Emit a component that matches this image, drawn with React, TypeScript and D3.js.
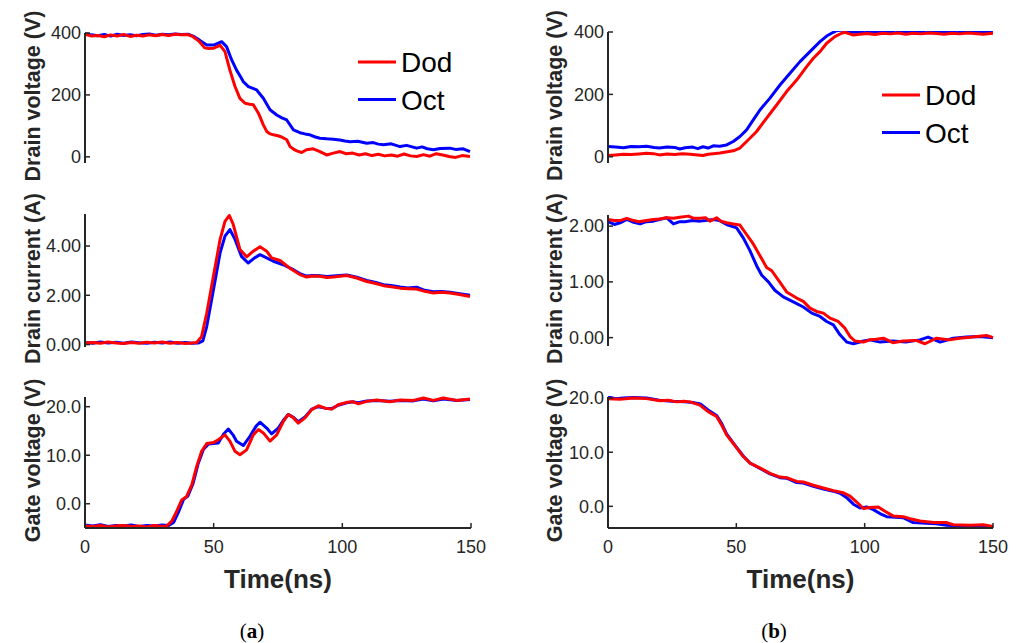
import React from 'react';
import * as d3 from 'd3';

// time (ns), value pairs
const dodVdsA = [[0,396],[2.5,390],[5,392],[7.5,388],[10,394],[12.5,390],[15,395],[17.5,389],[20,393],[22.5,390],[25,394],[27.5,391],[30,395],[32.5,392],[35,396],[37.5,394],[40,395],[42,388],[44.5,372],[46.5,352],[48,350],[50,351],[52.5,360],[54.4,340],[56.3,280],[58.3,227],[60.2,189],[62.2,173],[64,170],[65.4,168],[67.4,141],[69.3,103],[70.6,82],[72,74],[73.2,71],[75,68],[76.4,64],[78.4,55],[79.7,33],[81,25],[82.3,19],[84.2,14],[86.1,23],[88.7,26],[91.3,17],[93.9,6],[96.5,12],[99.1,17],[101.5,10],[104,12],[106.5,6],[109,10],[111.5,4],[114,8],[116.5,3],[119,6],[121.5,2],[124,9],[126.5,3],[129,1],[131.5,7],[134,2],[136.5,10],[139,6],[141.5,1],[144,-2],[146.5,4],[149.6,1]];
const octVdsA = [[0,398],[2.5,394],[5,391],[7.5,395],[10,390],[12.5,396],[15,392],[17.5,394],[20,391],[22.5,395],[25,397],[27.5,393],[30,396],[32.5,394],[35,397],[37.5,395],[40,396],[42,390],[44.5,377],[47.3,361],[50,361],[53.1,372],[55,356],[57,313],[58.9,280],[60.5,258],[61.5,243],[63.5,227],[65,222],[66.7,216],[69.3,189],[71.9,152],[74.5,135],[76.5,126],[78.4,119],[81,87],[83.5,78],[85.5,74],[87.4,71],[89.5,64],[91.3,60],[94,58],[96.5,57],[99,54],[101,51],[103,49],[106,50],[109.5,44],[112,46],[114,41],[116,39],[119,42],[122.4,33],[125,37],[128.9,28],[131,32],[133,26],[135.4,23],[138,27],[141.8,28],[144,24],[147,26],[149.6,17]];

const dodIdA = [[0,0.06],[3,0.08],[6,0.05],[9,0.1],[12,0.06],[15,0.04],[18,0.08],[21,0.05],[24,0.09],[27,0.06],[30,0.1],[33,0.05],[36,0.08],[39,0.04],[41.5,0.06],[43.4,0.08],[45.3,0.32],[47.3,1.27],[49.9,2.77],[52.5,4.27],[54.4,5.0],[56.1,5.24],[57.6,4.88],[60.2,3.86],[62.8,3.56],[65.4,3.79],[68,3.97],[70.6,3.79],[72.5,3.52],[75.8,3.41],[79.6,3.1],[83.5,2.84],[86.1,2.74],[88.5,2.78],[91.3,2.77],[94,2.72],[96.5,2.74],[99,2.77],[101.7,2.8],[105.6,2.7],[109.5,2.56],[113,2.48],[116,2.39],[119,2.35],[122.4,2.29],[125.5,2.27],[128.9,2.25],[132,2.16],[135.4,2.09],[138.5,2.12],[141.8,2.09],[145,2.04],[149.6,1.95]];
const octIdA = [[0,0.08],[3,0.05],[6,0.1],[9,0.06],[12,0.09],[15,0.05],[18,0.1],[21,0.07],[24,0.05],[27,0.09],[30,0.06],[33,0.1],[36,0.05],[39,0.08],[41.5,0.05],[44,0.06],[45.8,0.15],[47.3,0.73],[49.9,2.22],[52.5,3.72],[54.4,4.4],[56.3,4.67],[58.3,4.27],[60.8,3.58],[63.4,3.31],[65.9,3.52],[68,3.65],[70.6,3.52],[73.2,3.38],[77,3.24],[81,3.04],[83.5,2.88],[86.1,2.78],[88.5,2.8],[91.3,2.79],[94,2.76],[96.5,2.78],[99,2.8],[101.7,2.82],[105.6,2.73],[109.5,2.6],[113,2.52],[116,2.43],[119,2.4],[122.4,2.34],[125.5,2.3],[128.9,2.33],[132,2.2],[135.4,2.14],[138.5,2.15],[141.8,2.12],[145,2.07],[149.6,2.0]];

const dodVgsA = [[0,-4.6],[3,-4.7],[6,-4.5],[9,-4.8],[12,-4.6],[15,-4.5],[18,-4.7],[21,-4.6],[24,-4.8],[27,-4.5],[30,-4.7],[31.7,-4.6],[33.7,-3.6],[35.6,-1.6],[37.6,0.8],[39.5,1.5],[41.5,3.9],[43.4,7.7],[45.3,10.8],[47.3,12.4],[49.9,12.6],[51.8,13.2],[54.4,14.2],[56.3,12.9],[58.3,10.8],[60.2,10.1],[62.8,11.1],[65.4,14.2],[67.4,15.3],[69.3,14.6],[71.9,12.9],[74.5,14.2],[77.1,17.0],[79,18.4],[81,17.7],[82.9,16.6],[85.5,17.7],[88.1,19.4],[90.7,20.2],[93.3,19.7],[95.9,19.5],[98.4,20.4],[101.7,20.9],[104.3,21.0],[106.2,20.6],[109.5,21.1],[113.3,21.4],[118.5,21.0],[122.4,21.4],[127.6,21.3],[131.5,21.8],[135.4,21.3],[139.2,21.8],[144.5,21.3],[149.6,21.6]];
const octVgsA = [[0,-4.4],[3,-4.6],[6,-4.3],[9,-4.7],[12,-4.5],[15,-4.6],[18,-4.4],[21,-4.7],[24,-4.5],[27,-4.6],[30,-4.4],[32.5,-4.5],[34.5,-3.8],[36.5,-1.5],[38.3,0.9],[40,1.6],[42,4.2],[44,8.3],[46,11.2],[48,12.3],[50,12.4],[51.8,12.5],[53.8,14.3],[55.7,15.4],[57.5,14.2],[58.9,12.9],[61.5,12.0],[64.1,13.9],[66.5,16.0],[68,16.8],[70.6,15.6],[72.5,14.4],[75.1,15.6],[77.1,17.2],[79,18.4],[81,17.8],[82.9,16.9],[85.5,17.9],[88.1,19.5],[90.7,20.0],[93.3,19.7],[95.9,19.6],[98.4,20.3],[101.7,20.8],[104.3,21.0],[106.2,20.8],[109.5,21.2],[113.3,21.3],[118.5,21.1],[122.4,21.3],[127.6,21.2],[131.5,21.6],[135.4,21.2],[139.2,21.6],[144.5,21.3],[149.6,21.5]];

const dodVdsB = [[0,4],[3,6],[6,8],[9,7],[12,9],[15,11],[17.7,10],[20,6],[23,9],[26,7],[29,10],[32,8],[35,6],[37,4],[39,8],[41,10],[43.6,12],[46,15],[48.8,19],[51.4,28],[54,49],[57.9,81],[61.8,124],[65.7,166],[69.6,209],[73.5,246],[77.4,289],[80,316],[82.6,337],[85.2,364],[88.4,385],[91,396],[92.3,399],[95.6,390],[98,393],[101,395],[104,392],[107,396],[110,394],[113,397],[116,393],[119,396],[122,394],[125,397],[128,395],[131,393],[134,396],[137,394],[140,397],[143,395],[146,393],[150,396]];
const octVdsB = [[0,33],[3,31],[6,29],[9,33],[12,32],[15,34],[18,30],[20,28],[23,31],[26,30],[28,25],[30,29],[33,31],[35,26],[37,32],[39,28],[41,35],[43.5,34],[46.2,38],[48.8,49],[51.4,65],[54,86],[56.6,118],[59.2,150],[63.1,188],[67,230],[70.9,268],[74.8,305],[78.7,337],[82.6,369],[85.2,387],[87.8,399],[89,404],[91,406],[93,403],[94.5,399],[97,400],[100,398],[103,401],[106,399],[109,400],[112,398],[115,401],[118,399],[121,400],[124,398],[127,401],[130,399],[133,400],[136,398],[139,401],[142,399],[146,400],[150,398]];

const dodIdB = [[0,2.12],[2.5,2.1],[4.7,2.1],[7.3,2.14],[10,2.1],[12,2.08],[15,2.1],[17.7,2.12],[20,2.13],[22.9,2.15],[25.5,2.14],[28,2.16],[31.3,2.18],[33.5,2.14],[35.8,2.14],[38,2.15],[39.7,2.09],[42.3,2.15],[44,2.09],[46.2,2.06],[48.8,2.04],[51.4,2.02],[54,1.85],[56.6,1.68],[59.2,1.47],[61.8,1.26],[63.8,1.2],[66.4,1.03],[69.6,0.82],[73.5,0.71],[76.1,0.65],[78.7,0.53],[81.3,0.47],[83.9,0.44],[86.5,0.35],[89.7,0.29],[92.3,0.17],[94.3,0.02],[96.2,-0.06],[99.5,-0.08],[102,-0.04],[104.5,-0.03],[107.3,-0.01],[111,-0.09],[115,-0.06],[120,-0.05],[123.5,-0.11],[128,-0.01],[133,-0.04],[137,-0.01],[142,0.01],[147.5,0.04],[150,0.0]];
const octIdB = [[0,2.08],[2.5,2.03],[4.7,2.06],[7.3,2.12],[10,2.07],[12.5,2.04],[15,2.08],[17.7,2.09],[20,2.12],[22.9,2.15],[25.5,2.04],[28,2.08],[30,2.08],[33,2.1],[35.8,2.09],[38,2.1],[41,2.12],[43.5,2.1],[46.2,2.03],[50.1,1.97],[52.7,1.79],[55.3,1.56],[57.9,1.29],[59.9,1.12],[62.5,1.0],[65,0.85],[68.3,0.73],[72.2,0.64],[76.1,0.55],[79.4,0.44],[82.6,0.38],[85.2,0.29],[87.8,0.23],[90.4,0.05],[93,-0.08],[95.6,-0.11],[99.5,-0.06],[102,-0.04],[106,-0.08],[111,-0.06],[116,-0.08],[121.5,-0.04],[124.7,0.01],[129.4,-0.08],[134.5,-0.01],[139.7,0.01],[144.8,0.02],[150,0.0]];

const dodVgsB = [[0,19.9],[4.7,19.8],[10,20.0],[15,19.9],[20.3,19.5],[23.5,19.6],[26.8,19.3],[29.5,19.4],[32,19.3],[35.8,18.7],[39,17.5],[42.3,16.6],[44.3,15.0],[46.2,13.2],[50.1,10.8],[52.7,9.2],[55.3,8.0],[59.2,7.1],[63.1,6.1],[67,5.4],[69.6,5.3],[73.5,4.6],[76.1,4.5],[80,3.9],[83.9,3.4],[87.8,2.9],[91.7,2.5],[94.3,1.9],[96.9,0.8],[99.5,-0.4],[102,-0.2],[105.3,-0.1],[107.9,-0.9],[111.2,-1.8],[115,-1.9],[117.7,-2.3],[121.6,-2.7],[126.8,-3.0],[132,-3.0],[134.5,-3.4],[141,-3.5],[146.2,-3.4],[150,-3.7]];
const octVgsB = [[0,20.2],[3,19.9],[6,20.0],[10,20.1],[15,20.0],[20,19.6],[25,19.4],[30,19.3],[33,19.2],[36,18.9],[39,17.8],[42.3,16.8],[44.3,15.3],[46.2,13.4],[50.1,10.9],[52.7,9.3],[55.3,8.0],[59.2,7.0],[63.1,6.0],[67,5.3],[69.6,5.2],[73.5,4.4],[76.1,4.3],[80,3.7],[83.9,3.2],[87.8,2.8],[90.4,2.4],[93,1.6],[95.6,0.4],[98.2,-0.3],[100.8,-0.1],[103.4,-0.6],[106.6,-1.5],[108.6,-1.9],[112,-2.0],[115,-2.1],[118.9,-3.0],[124,-3.1],[128,-3.2],[132,-3.5],[136,-3.6],[139.7,-3.9],[145,-3.8],[150,-3.9]];

const timeTicks = [0, 50, 100, 150];
const seriesNames = ['Dod', 'Oct'];
const seriesColors = ['#ff0000', '#0000ff'];

const FONT = '"Liberation Sans", Arial, Helvetica, sans-serif';
const AXIS = '#262626';

const columns = [
  { x0: 85, x1: 471, caption: 'a', capX: 252, legend: { x: 358, y: 62 } },
  { x0: 608, x1: 993, caption: 'b', capX: 774, legend: { x: 882, y: 95 } },
];

const rows = [
  { label: 'Drain voltage (V)', top: 33, bottom: 163, fmt: (d) => d3.format('d')(d) },
  { label: 'Drain current (A)', top: 214, bottom: 347, fmt: d3.format('.2f') },
  { label: 'Gate voltage (V)', top: 397, bottom: 528, fmt: d3.format('.1f') },
];

const panels = [
  { col: 0, row: 0, domain: [-20, 400], ticks: [0, 200, 400], dod: dodVdsA, oct: octVdsA },
  { col: 0, row: 1, domain: [-0.1, 5.3], ticks: [0, 2, 4], dod: dodIdA, oct: octIdA },
  { col: 0, row: 2, domain: [-5, 22], ticks: [0, 10, 20], dod: dodVgsA, oct: octVgsA },
  { col: 1, row: 0, domain: [-20, 400], ticks: [0, 200, 400], dod: dodVdsB, oct: octVdsB, top: 32 },
  { col: 1, row: 1, domain: [-0.15, 2.2], ticks: [0, 1, 2], dod: dodIdB, oct: octIdB, top: 215, bottom: 346 },
  { col: 1, row: 2, domain: [-4, 20.2], ticks: [0, 10, 20], dod: dodVgsB, oct: octVgsB },
];

function Panel({ p, i }) {
  const c = columns[p.col];
  const r = rows[p.row];
  const top = p.top ?? r.top;
  const bottom = p.bottom ?? r.bottom;
  const x = d3.scaleLinear().domain([0, 150]).range([c.x0, c.x1]);
  const y = d3.scaleLinear().domain(p.domain).range([bottom, top]);
  const line = d3.line().x((d) => x(d[0])).y((d) => y(d[1]));
  const clipId = `clip-${i}`;
  const isBottom = p.row === 2;
  const labelX = p.col === 0 ? 40 : 562;
  const labelY = (top + bottom) / 2 - 2;

  return (
    <g>
      <defs>
        <clipPath id={clipId}>
          <rect x={c.x0} y={top - 1} width={c.x1 - c.x0 + 4} height={bottom - top + 2} />
        </clipPath>
      </defs>
      <g clipPath={`url(#${clipId})`} fill="none" strokeWidth={3} strokeLinejoin="round">
        <path d={line(p.oct)} stroke={seriesColors[1]} />
        <path d={line(p.dod)} stroke={seriesColors[0]} />
      </g>
      <line x1={c.x0} x2={c.x0} y1={top} y2={bottom} stroke={AXIS} strokeWidth={2} />
      {p.ticks.map((t) => (
        <g key={t}>
          <line x1={c.x0} x2={c.x0 + 5} y1={y(t)} y2={y(t)} stroke={AXIS} strokeWidth={1.5} />
          <text x={c.x0 - 4} y={y(t)} dy="0.35em" textAnchor="end" fontSize={18} fill={AXIS} fontFamily={FONT}>
            {r.fmt(t)}
          </text>
        </g>
      ))}
      <text
        transform={`translate(${labelX},${labelY}) rotate(-90)`}
        textAnchor="middle"
        fontSize={21.5}
        fontWeight="bold"
        fill={AXIS}
        fontFamily={FONT}
      >
        {r.label}
      </text>
      {isBottom && (
        <g>
          <line x1={c.x0} x2={c.x1} y1={bottom} y2={bottom} stroke={AXIS} strokeWidth={2} />
          {timeTicks.map((t) => (
            <g key={t}>
              <line x1={x(t)} x2={x(t)} y1={bottom} y2={bottom - 5} stroke={AXIS} strokeWidth={1.5} />
              <text x={x(t)} y={553} textAnchor="middle" fontSize={18} fill={AXIS} fontFamily={FONT}>
                {t}
              </text>
            </g>
          ))}
          <text x={(c.x0 + c.x1) / 2} y={588} textAnchor="middle" fontSize={26} fontWeight="bold" fill={AXIS} fontFamily={FONT}>
            Time(ns)
          </text>
          <text x={c.capX} y={638} textAnchor="middle" fontSize={21} fill="#000" fontFamily='"Liberation Serif", "Times New Roman", serif'>
            (<tspan fontWeight="bold">{c.caption}</tspan>)
          </text>
        </g>
      )}
      {p.row === 0 && (
        <g>
          {seriesNames.map((n, k) => (
            <g key={n}>
              <line
                x1={c.legend.x}
                x2={c.legend.x + 38}
                y1={c.legend.y + k * 37.5}
                y2={c.legend.y + k * 37.5}
                stroke={seriesColors[k]}
                strokeWidth={3}
              />
              <text x={c.legend.x + 43} y={c.legend.y + k * 37.5} dy="0.36em" fontSize={28} fill="#000" fontFamily={FONT}>
                {n}
              </text>
            </g>
          ))}
        </g>
      )}
    </g>
  );
}

export default function App() {
  return (
    <svg
      width={1021}
      height={643}
      style={{ position: 'absolute', left: 0, top: 0, background: '#fff' }}
    >
      {panels.map((p, i) => (
        <Panel key={i} p={p} i={i} />
      ))}
    </svg>
  );
}
